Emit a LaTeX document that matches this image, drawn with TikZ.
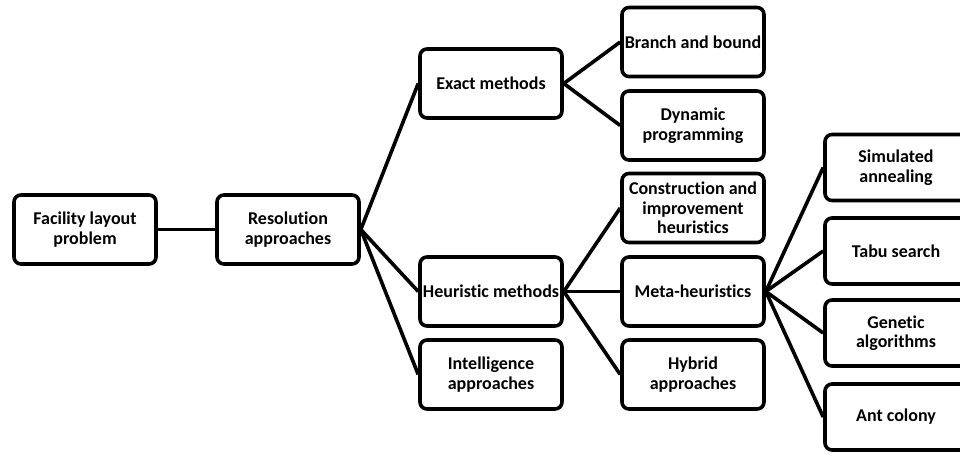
\documentclass[tikz,border=0pt]{standalone}
\usepackage{fontspec}
\setmainfont{Carlito}[Ligatures=NoCommon]
\begin{document}
\begin{tikzpicture}[x=1pt,y=-1pt,
  box/.style={draw=black, line width=3.6pt, rounded corners=7pt, align=center,
    minimum width=142pt, minimum height=69pt, inner sep=0pt,
    font=\fontsize{18}{19.5}\selectfont\bfseries},
  rbox/.style={box, minimum height=66pt},
  link/.style={line width=3.6pt}]
\useasboundingbox (0,0) rectangle (960,454);
\node[box] (fac) at (85,229.5) {Facility layout\\problem};
\node[box] (res) at (288,229.5) {Resolution\\approaches};
\node[box] (exact) at (491,83.5) {Exact methods};
\node[box] (bb) at (693,42) {Branch and bound};
\node[box] (dp) at (693,125.5) {Dynamic\\programming};
\node[box] (con) at (693,208) {Construction and\\improvement\\heuristics};
\node[box] (heu) at (491,291.5) {Heuristic methods};
\node[box] (meta) at (693,291.5) {Meta-heuristics};
\node[box] (intel) at (491,374.5) {Intelligence\\approaches};
\node[box] (hyb) at (693,374.5) {Hybrid\\approaches};
\node[rbox] (sa) at (896,167.5) {Simulated\\annealing};
\node[rbox] (tabu) at (896,251) {Tabu search};
\node[rbox] (gen) at (896,333) {Genetic\\algorithms};
\node[rbox] (ant) at (896,417) {Ant colony};
\draw[link] (fac.east) -- (res.west);
\draw[link] (res.east) -- (exact.west);
\draw[link] (res.east) -- (heu.west);
\draw[link] (res.east) -- (intel.west);
\draw[link] (exact.east) -- (bb.west);
\draw[link] (exact.east) -- (dp.west);
\draw[link] (heu.east) -- (con.west);
\draw[link] (heu.east) -- (meta.west);
\draw[link] (heu.east) -- (hyb.west);
\draw[link] (meta.east) -- (sa.west);
\draw[link] (meta.east) -- (tabu.west);
\draw[link] (meta.east) -- (gen.west);
\draw[link] (meta.east) -- (ant.west);
\end{tikzpicture}
\end{document}
